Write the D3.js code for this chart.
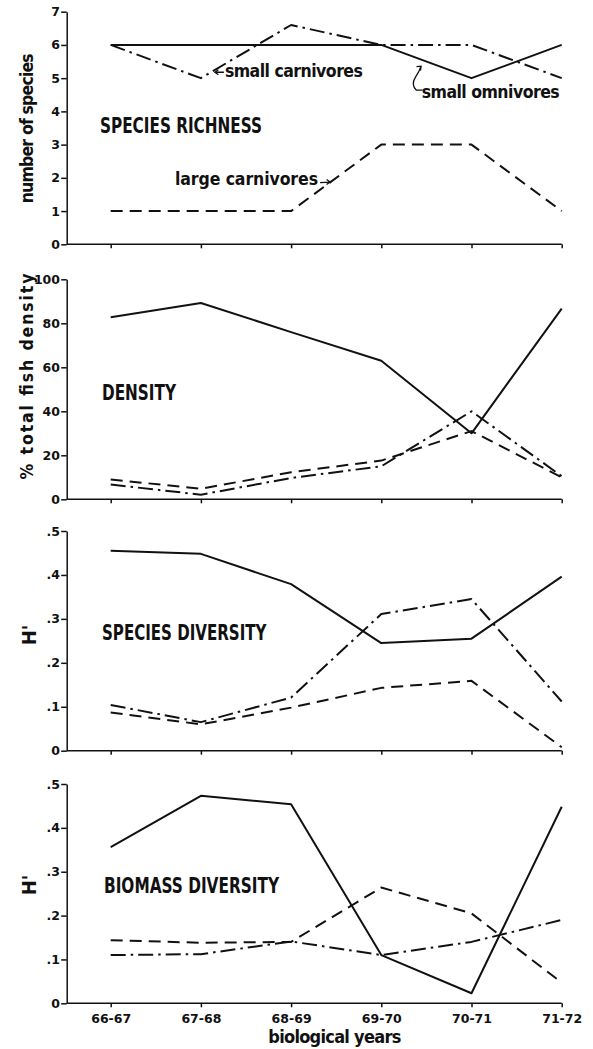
<!DOCTYPE html>
<html><head><meta charset="utf-8">
<script src="https://cdn.jsdelivr.net/npm/d3@7"></script>
<style>
body{margin:0;background:#fff}
svg{display:block}
</style></head>
<body><svg id="c" width="593" height="1049"></svg>
<script>
// ---- data ----
const years = ["66-67","67-68","68-69","69-70","70-71","71-72"];
const richnessTicks = [0,1,2,3,4,5,6,7];
const densityTicks = [0,20,40,60,80,100];
const hTicks = [0,0.1,0.2,0.3,0.4,0.5];

const richSmallOmnivores = [6,6,6,6,5,6];
const richSmallCarnivores = [6,5,6.6,6,6,5];
const richLargeCarnivores = [1,1,1,3,3,1];

const densSmallOmnivores = [82.7,89.2,76,63,30,86.7];
const densSmallCarnivores = [6.7,2.1,9.7,15,40,10.5];
const densLargeCarnivores = [9,4.8,12.3,17.6,31,10];

const divSmallOmnivores = [0.455,0.448,0.379,0.245,0.255,0.396];
const divSmallCarnivores = [0.104,0.065,0.121,0.311,0.345,0.112];
const divLargeCarnivores = [0.087,0.060,0.098,0.143,0.159,0.008];

const bioSmallOmnivores = [0.356,0.473,0.454,0.110,0.023,0.448];
const bioSmallCarnivores = [0.110,0.112,0.141,0.110,0.140,0.190];
const bioLargeCarnivores = [0.144,0.138,0.140,0.264,0.205,0.047];

const panelTitles = ["SPECIES RICHNESS","DENSITY","SPECIES DIVERSITY","BIOMASS DIVERSITY"];
const yTitles = ["number of species","% total fish density","H'","H'"];
const xTitle = "biological years";

// ---- layout ----
const condFont = "'Liberation Sans Narrow','DejaVu Sans Condensed','Liberation Sans',sans-serif";
const tickFont = "'DejaVu Sans',sans-serif";
const ink = "#111";
const svg = d3.select("#c");
const left = 66.7, xStart = 110.7, xEnd = 561.7;
const x = d3.scalePoint().domain(years).range([xStart, xEnd]);

function cond(sel, size, len, adjust) {
  sel.style("font-family", condFont).style("font-weight", "bold")
     .style("font-size", size + "px").attr("fill", ink);
  if (len) sel.attr("textLength", len).attr("lengthAdjust", adjust || "spacingAndGlyphs");
  return sel;
}

const hFmt = d => d === 0 ? "0" : d3.format(".1f")(d).replace(/^0/, "");
const panels = [
  {top:11.7, bottom:244.3, domain:[0,7], ticks:richnessTicks, fmt:d=>d,
   series:[richSmallOmnivores,richSmallCarnivores,richLargeCarnivores],
   tx:100, ty:133.3, tlen:162, ylen:150, ycy:128.3, yx:33.3, yfs:17.5},
  {top:279.3, bottom:499.3, domain:[0,100], ticks:densityTicks, fmt:d=>d,
   series:[densSmallOmnivores,densSmallCarnivores,densLargeCarnivores],
   tx:102, ty:400, tlen:74, ylen:206, ycy:376.5, yx:33.3, yfs:17.5},
  {top:531, bottom:750.7, domain:[0,0.5], ticks:hTicks, fmt:hFmt,
   series:[divSmallOmnivores,divSmallCarnivores,divLargeCarnivores],
   tx:102, ty:640, tlen:164.5, ylen:null, ycy:635, yx:35.5, yfs:20},
  {top:784, bottom:1003.3, domain:[0,0.5], ticks:hTicks, fmt:hFmt,
   series:[bioSmallOmnivores,bioSmallCarnivores,bioLargeCarnivores],
   tx:104, ty:893, tlen:175, ylen:null, ycy:885, yx:35.5, yfs:20}
];
const dashes = [null, "15,5,2.5,5", "12,7"];

const scales = [];
panels.forEach((p, i) => {
  const y = d3.scaleLinear().domain(p.domain).range([p.bottom, p.top]);
  scales.push(y);
  const g = svg.append("g");

  const ya = g.append("g").attr("transform", `translate(${left},0)`)
    .call(d3.axisLeft(y).tickValues(p.ticks).tickFormat(p.fmt).tickSize(5.5).tickSizeOuter(0).tickPadding(1.2));
  const xa = g.append("g").attr("transform", `translate(0,${p.bottom})`)
    .call(d3.axisBottom(x).tickSize(4).tickSizeOuter(0).tickPadding(7)
      .tickFormat(i === 3 ? (d => d) : (() => "")));
  xa.select(".domain").attr("d", `M${left},0H${xEnd}`);
  [ya, xa].forEach(a => {
    a.attr("font-size", null).attr("font-family", null);
    a.selectAll("path,line").attr("stroke", ink).attr("stroke-width", 1.5);
    a.selectAll("text").style("font-family", tickFont).style("font-weight", "700")
      .style("font-size", "12.5px").attr("fill", ink);
  });

  const line = d3.line().x((d, k) => x(years[k])).y(d => y(d));
  p.series.forEach((s, k) => {
    g.append("path").attr("d", line(s)).attr("fill", "none")
      .attr("stroke", ink).attr("stroke-width", 2)
      .attr("stroke-linejoin", "round")
      .attr("stroke-dasharray", dashes[k]);
  });

  cond(g.append("text").attr("x", p.tx).attr("y", p.ty).text(panelTitles[i]), 20.5, p.tlen);

  const yt = g.append("text")
    .attr("transform", `translate(${p.yx},${p.ycy}) rotate(-90)`)
    .attr("text-anchor", "middle").text(yTitles[i]);
  cond(yt, p.yfs, p.ylen, "spacing");
});

// x title
cond(svg.append("text").attr("x", 268.3).attr("y", 1043.3).text(xTitle), 18, 133, "spacing");

// ---- annotations in panel 1 ----
const yR = scales[0];
cond(svg.append("text").attr("x", x(years[1]) + 24).attr("y", yR(5) - 0.9).text("small carnivores"), 17.5, 138, "spacing");
cond(svg.append("text").attr("x", x(years[4]) - 49.8).attr("y", yR(5) + 20).text("small omnivores"), 17.5, 138, "spacing");
cond(svg.append("text").attr("x", x(years[0]) + 64.3).attr("y", yR(1) - 26.5).text("large carnivores"), 17.5, 143, "spacing");

const arr = svg.append("g").attr("fill", "none").attr("stroke", ink).attr("stroke-width", 1.3);
// small carnivores arrow (pointing left)
{
  const ax = x(years[1]) + 14, ay = yR(5) - 5.9;
  arr.append("path").attr("d", `M${ax + 9},${ay}L${ax},${ay}M${ax + 3.5},${ay - 2.5}L${ax},${ay}L${ax + 3.5},${ay + 2.5}`);
}
// large carnivores arrow (pointing right)
{
  const ax = x(years[2]) + 39, ay = yR(1) - 29;
  arr.append("path").attr("d", `M${ax - 10},${ay + 0.5}L${ax},${ay}M${ax - 3.5},${ay - 2.5}L${ax},${ay}L${ax - 3.5},${ay + 2.5}`);
}
// small omnivores curved arrow
{
  const bx = x(years[4]), by = yR(5);
  const sx = bx - 53, sy = by + 12;
  const ex = bx - 50.5, ey = by - 12;
  arr.append("path").attr("d",
    `M${sx + 4},${sy}L${sx - 2},${sy}Q${sx - 8},${sy - 5} ${sx - 3},${sy - 13}Q${sx + 1},${sy - 19} ${ex},${ey}`);
  arr.append("path").attr("d", `M${ex - 4.5},${ey + 0.5}L${ex},${ey}L${ex - 0.5},${ey + 4.5}`);
}
</script></body></html>
